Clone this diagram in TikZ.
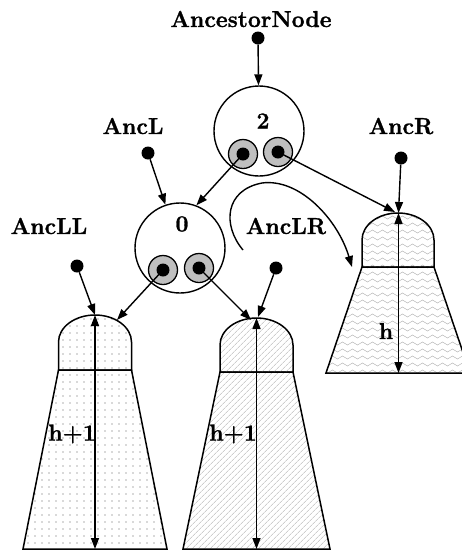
\documentclass[tikz,border=0pt]{standalone}
\usepackage{fontspec}
\setmainfont{Latin Modern Roman}[BoldFeatures={FakeBold=1.2}]
\usetikzlibrary{arrows.meta,patterns,patterns.meta}
\pgfdeclarepatternformonly{mywaves}{\pgfqpoint{-1pt}{-1pt}}{\pgfqpoint{11pt}{8pt}}{\pgfqpoint{10pt}{7pt}}{%
  \pgfsetlinewidth{0.5pt}%
  \pgfpathmoveto{\pgfqpoint{0pt}{3.5pt}}%
  \pgfpathcurveto{\pgfqpoint{1.7pt}{5.5pt}}{\pgfqpoint{3.3pt}{5.5pt}}{\pgfqpoint{5pt}{3.5pt}}%
  \pgfpathcurveto{\pgfqpoint{6.7pt}{1.5pt}}{\pgfqpoint{8.3pt}{1.5pt}}{\pgfqpoint{10pt}{3.5pt}}%
  \pgfusepath{stroke}}
\begin{document}
\begin{tikzpicture}[x=1pt,y=-1pt,
  lbl/.style={font=\fontsize{23}{26}\selectfont\bfseries, inner sep=0pt},
  bigc/.style={circle, draw, line width=1.4pt, minimum size=90pt, inner sep=0pt},
  ptr/.style={circle, draw, line width=1.3pt, fill=gray!50, minimum width=27pt, minimum height=29pt, inner sep=0pt},
  bdot/.style={circle, fill=black, inner sep=0pt, minimum size=13pt},
  arr/.style={line width=1.4pt, -{Triangle[length=11pt,width=8pt]}},
  darr/.style={line width=1.4pt, {Triangle[length=11pt,width=8pt]}-{Triangle[length=11pt,width=8pt]}},
  tree/.style={line width=1.5pt, draw, pattern color=gray!60}]
\useasboundingbox (0,0) rectangle (462,550);

% trees
\path[tree, pattern={Dots[radius=0.8pt,distance=7pt]}] (58.5,370) -- (131.5,370) -- (167,549) -- (23,549) -- cycle;
\path[tree, pattern={Dots[radius=0.8pt,distance=7pt]}] (58.5,370) -- (58.5,342) .. controls (58.5,327.1) and (74.9,315) .. (95,315) .. controls (115.1,315) and (131.5,327.1) .. (131.5,342) -- (131.5,370) -- cycle;

\path[tree, pattern={Lines[angle=45,distance=4pt,line width=0.6pt]}] (220,372) -- (293,372) -- (330,549) -- (183,549) -- cycle;
\path[tree, pattern={Lines[angle=45,distance=4pt,line width=0.6pt]}] (220,372) -- (220,345) .. controls (220,330.1) and (236.4,318) .. (256.5,318) .. controls (276.6,318) and (293,330.1) .. (293,345) -- (293,372) -- cycle;

\path[tree, pattern=mywaves] (362,267) -- (434,267) -- (470,373) -- (326,373) -- cycle;
\path[tree, pattern=mywaves] (362,267) -- (362,240) .. controls (362,225.1) and (378.1,213) .. (398,213) .. controls (417.9,213) and (434,225.1) .. (434,240) -- (434,267) -- cycle;

\coordinate (ltop) at (95,315);
\coordinate (lbot) at (95,549);
\coordinate (mtop) at (256.5,318);
\coordinate (mbot) at (256.5,549);
\coordinate (rtop) at (398.5,213);
\coordinate (rbot) at (398.5,373);
\coordinate (ldome) at (117,320);
\coordinate (mdome) at (251,320);
\coordinate (mtip) at (258,317);
\coordinate (rtip) at (395,212);

\draw[darr] (ltop) -- (lbot);
\draw[darr] (mtop) -- (mbot);
\draw[darr] (rtop) -- (rbot);

% labels
\node[lbl] (tAN) at (251,19) {AncestorNode};
\node[lbl] (tL) at (133,126) {AncL};
\node[lbl] (tR) at (401,126) {AncR};
\node[lbl] (tLL) at (49,226) {AncLL};
\node[lbl] (tLR) at (286,226) {AncLR};
\node[lbl, anchor=east] (th1) at (96,434) {h+1};
\node[lbl, anchor=east] (th2) at (257,434) {h+1};
\node[lbl] (th) at (386,331) {h};

% node circles
\node[bigc] (c2) at (259,131) {};
\node[lbl] (n2) at (263,121) {2};
\node[bigc] (c0) at (180,248) {};
\node[lbl] (n0) at (182,224) {0};

\node[ptr] (p2l) at (243,154) {};
\node[bdot] (i2l) at (243,154) {};
\node[ptr] (p2r) at (278,152) {};
\node[bdot] (i2r) at (278,152) {};
\node[ptr] (p0l) at (163,270) {};
\node[bdot] (i0l) at (163,270) {};
\node[ptr] (p0r) at (199,268) {};
\node[bdot] (i0r) at (199,268) {};

% free dots
\node[bdot] (dAN) at (258,38) {};
\node[bdot] (dL) at (148,153) {};
\node[bdot] (dR) at (401,158) {};
\node[bdot] (dLL) at (77,266) {};
\node[bdot] (dLR) at (276,268) {};

% connectors
\draw[arr] (dAN) -- (c2);
\draw[arr] (dL) -- (c0);
\draw[arr] (i2l.center) -- (c0.69);
\draw[arr] (i2r.center) -- (rtip);
\draw[arr] (dR) -- (rtop);
\draw[arr] (dLL) -- (ltop);
\draw[arr] (i0l.center) -- (ldome);
\draw[arr] (i0r.center) -- (mdome);
\draw[arr] (dLR) -- (mtip);

\coordinate (cs) at (243,250);
\coordinate (ce) at (352,267);
\draw[arr] (cs) .. controls (222,225) and (225,190) .. (262,183) .. controls (300,178) and (338,220) .. (ce);
\end{tikzpicture}
\end{document}
